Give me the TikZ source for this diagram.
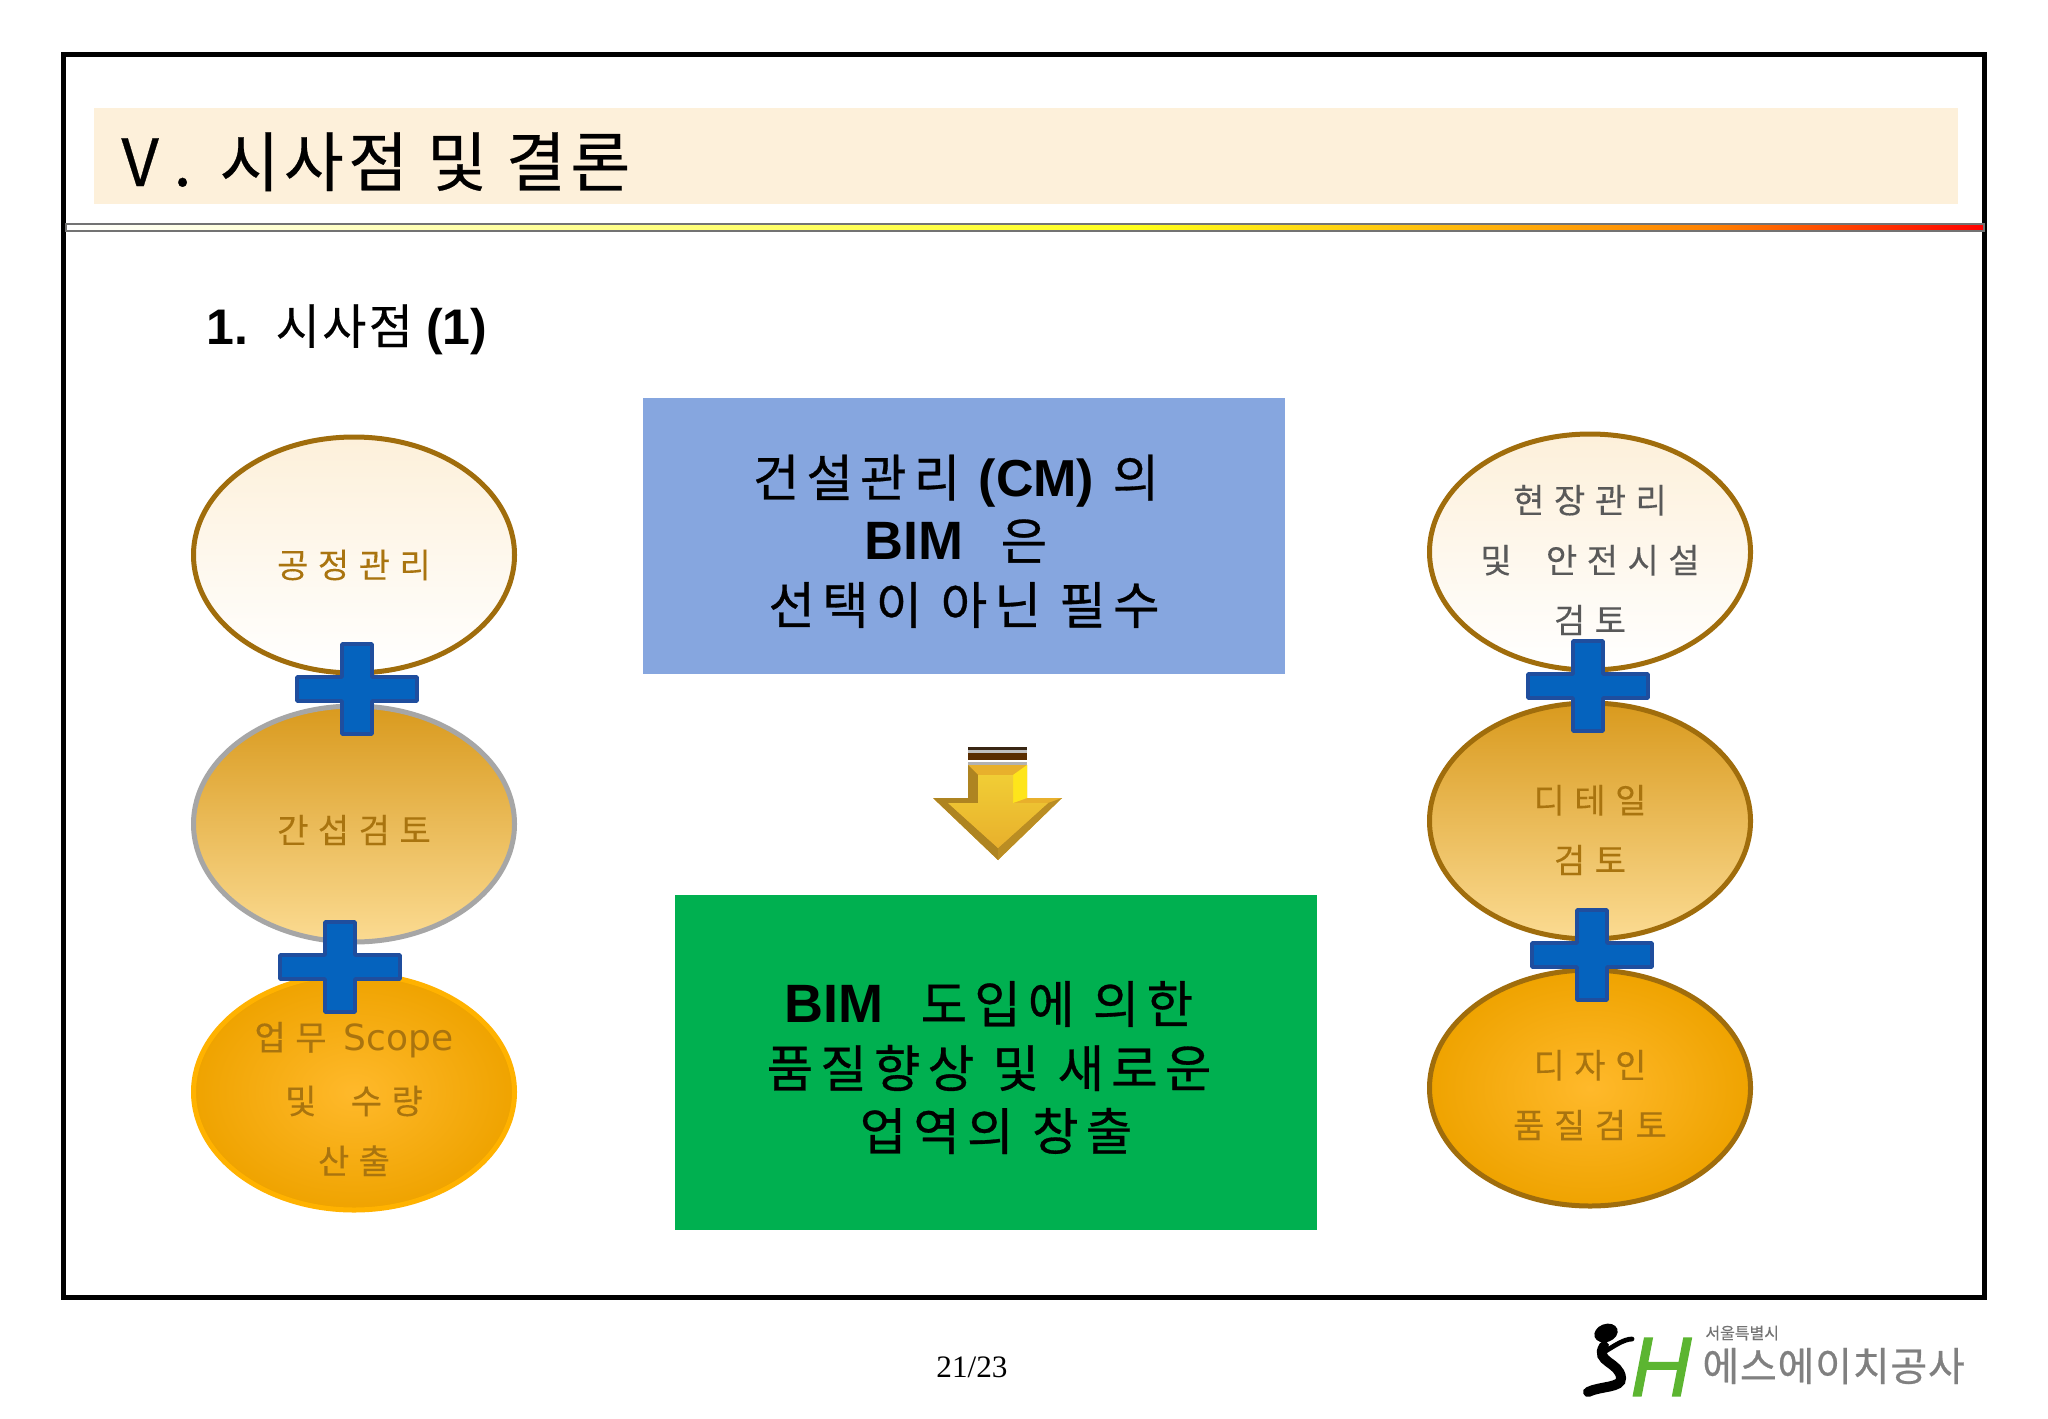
\documentclass[tikz,border=0pt]{standalone}
\usepackage{fontspec}
\usepackage{xcolor}
\usepackage{tikz}
\usetikzlibrary{shapes.geometric}
\setmainfont{Liberation Sans}
\newfontfamily\korfont{Noto Sans CJK KR}
\newfontfamily\serfont{Liberation Serif}
\newfontfamily\dejafont{DejaVu Sans}
\newfontfamily\latfont{Liberation Sans Bold}
\newfontfamily\logohfont[FakeBold=1.5]{Liberation Sans Italic}
\newcommand{\korsize}[3]{\fontsize{#1}{#1}\korfont\addfontfeatures{LetterSpace=#2,FakeBold=#3}}
\newcommand{\latb}[2]{{\latfont\fontsize{#1}{#1}\selectfont #2}}
\definecolor{titlebar}{HTML}{FDF0DA}
\definecolor{goldtext}{HTML}{A9740F}
\definecolor{goldline}{HTML}{A06D0C}
\definecolor{bluebox}{HTML}{86A6DF}
\definecolor{greenbox}{HTML}{00B050}
\definecolor{plusfill}{HTML}{0563BE}
\definecolor{plusline}{HTML}{1F4E9E}
\definecolor{midtop}{HTML}{D99A1E}
\definecolor{midbottom}{HTML}{FBDB92}
\definecolor{deepin}{HTML}{FFB92B}
\definecolor{deepout}{HTML}{EFA300}
\definecolor{arrowbase}{HTML}{E8B02C}
\definecolor{logogreen}{HTML}{5CB531}
\pgfdeclarehorizontalshading{rulefade}{100bp}{color(0bp)=(white); color(25bp)=(white); color(53bp)=(yellow!90!white); color(68bp)=(orange); color(75bp)=(red); color(100bp)=(red)}
\begin{document}
\begin{tikzpicture}[
   x=0.5pt,y=-0.5pt,
   frame/.style={draw=black,line width=2.5pt},
   box/.style={minimum width=321pt,inner sep=0pt},
   lens/.style={ellipse,minimum width=160.5pt,minimum height=118pt,inner sep=0pt,line width=2.5pt},
   pale/.style={lens,draw=goldline,top color=titlebar,bottom color=white},
   mid/.style={lens,draw=goldline,top color=midtop,bottom color=midbottom},
   deep/.style={lens,draw=goldline,inner color=deepin,outer color=deepout},
   lenstext/.style={inner sep=0pt,align=center,text=goldtext,font=\korsize{17pt}{28}{0.2}},
   boxtext/.style={inner sep=0pt,font=\korsize{25.3pt}{14}{0.6}},
   plusmark/.pic={\draw[fill=plusfill,draw=plusline,line width=1.8pt,rounded corners=0.3pt]
     (-15,-45) -- (15,-45) -- (15,-12) -- (60,-12) -- (60,12) -- (15,12) -- (15,45) -- (-15,45) -- (-15,12) -- (-60,12) -- (-60,-12) -- (-15,-12) -- cycle;}]
\useasboundingbox (0,0) rectangle (2048,1418);
\fill[white] (0,0) rectangle (2048,1418);

\draw[frame] (63,55) rectangle (1984,1297);
\fill[titlebar] (94,108) rectangle (1958,204);
\shade[shading=rulefade,draw=black!55,line width=0.6pt] (66,224) rectangle (1984,231);
\node[anchor=base west,inner sep=0pt] (title) at (121,186) {\korsize{32.5pt}{7}{0.4}{\addfontfeatures{LetterSpace=30}V.}\hspace{14pt}시사점 및 결론};
\node[anchor=base west,inner sep=0pt] (subtitle) at (206,344) {\korsize{24pt}{5}{0.3}\latb{25pt}{1.}\hspace{5pt} 시사점 \latb{25pt}{(1)}};

\node[pale] (schedule) at (354,555) {};
\node[mid,draw=black!35] (clash) at (354,824) {};
\node[deep,draw=orange!60!yellow] (quantity) at (354,1092) {};
\node[pale] (safety) at (1590,552) {};
\node[mid] (detail) at (1590,821) {};
\node[deep] (design) at (1590,1088) {};

\node[lenstext] (schedulelabel) at (354,565) {공정관리};
\node[lenstext] (clashlabel) at (354,830) {간섭검토};
\node[lenstext] (quantitylabel) at (354,1099) {업무 {\dejafont\fontsize{18pt}{18pt}\selectfont Scope}\\[13pt]및 \ 수량\\[13pt]산출};
\node[lenstext,text=black!65] (safetylabel) at (1590,560) {현장관리\\[13pt]및 \ 안전시설\\[13pt]검토};
\node[lenstext] (detaillabel) at (1590,830) {디테일\\[13pt]검토};
\node[lenstext] (designlabel) at (1590,1095) {디자인\\[13pt]품질검토};

\pic at (357,689) {plusmark};
\pic at (340,967) {plusmark};
\pic at (1588,686) {plusmark};
\pic at (1592,955) {plusmark};

\node[box,fill=bluebox,minimum height=138pt] (cmbox) at (964,536) {};
\node[boxtext] (cmone) at (956,481) {건설관리 \latb{26pt}{(CM)} 의};
\node[boxtext] (cmtwo) at (956,541) {\latb{27pt}{BIM} \ 은};
\node[boxtext] (cmthree) at (964,605) {선택이 아닌 필수};

\node[box,fill=greenbox,minimum height=167.5pt] (bimbox) at (996,1062) {};
\node[boxtext] (bimone) at (989,1004) {\latb{27pt}{BIM} \ 도입에 의한};
\node[boxtext] (bimtwo) at (989,1068) {품질향상 및 새로운};
\node[boxtext] (bimthree) at (996,1131) {업역의 창출};

\fill[black!70!brown] (968,747) rectangle (1027,750);
\fill[black!25] (968,750) rectangle (1027,753);
\fill[black!65!orange] (968,753) rectangle (1027,760);
\fill[black!30] (968,762) rectangle (1027,765);
\fill[arrowbase] (933,798) -- (968,798) -- (968,765) -- (1027,765) -- (1027,798) -- (1062,798) -- (998,860) -- cycle;
\fill[arrowbase!75!black] (968,765) -- (978,775) -- (978,803) -- (948,803) -- (998,848) -- (998,860) -- (933,798) -- (968,798) -- cycle;
\fill[arrowbase!80!black] (1062,798) -- (1048,803) -- (998,848) -- (998,860) -- cycle;
\fill[yellow!85!orange!90!white] (1013,775) -- (1027,765) -- (1027,798) -- (1013,803) -- cycle;
\shade[top color=arrowbase!70!yellow!90!white,bottom color=arrowbase] (978,775) -- (1013,775) -- (1013,803) -- (1048,803) -- (998,848) -- (948,803) -- (978,803) -- cycle;

\node[inner sep=0pt,font=\serfont\fontsize{15.6pt}{15.6pt}\selectfont] (page) at (972,1367) {21/23};

\fill[black,rotate around={20:(1606,1333)}] (1606,1333) ellipse (12 and 9);
\draw[black,line width=5pt,line cap=round] (1604,1346) .. controls (1594,1362) and (1620,1362) .. (1621,1378) .. controls (1622,1388) and (1600,1386) .. (1588,1392);
\draw[black,line width=2.4pt,line cap=round] (1604,1352) .. controls (1614,1346) and (1624,1339) .. (1632,1339);
\node[anchor=center,inner sep=0pt,text=logogreen,font=\logohfont\fontsize{42pt}{42pt}\selectfont] (logoh) at (1661,1367) {H};
\node[anchor=west,inner sep=0pt,text=black!55,font=\korsize{8pt}{0}{0.3}] (logocity) at (1705,1333) {서울특별시};
\node[anchor=west,inner sep=0pt,text=black!50,font=\korsize{20pt}{2}{0.6}] (logoname) at (1702,1366) {에스에이치공사};
\end{tikzpicture}
\end{document}
